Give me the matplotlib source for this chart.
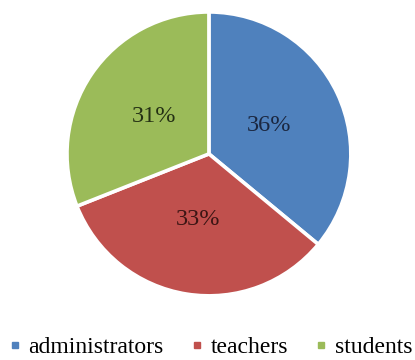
import matplotlib
matplotlib.use("Agg")
import matplotlib.pyplot as plt
from matplotlib.lines import Line2D

groups = ["administrators", "teachers", "students"]
shares = [36, 33, 31]
colors = ["#4F81BD", "#C0504D", "#9BBB59"]
label_colors = ["#1b2740", "#3b1514", "#243014"]

plt.rcParams["font.family"] = ["Liberation Serif", "DejaVu Serif"]

fig = plt.figure(figsize=(4.15, 3.6), dpi=100)
ax = fig.add_axes([0.1614, 0.178, 0.684, 0.789])

wedges, texts, autotexts = ax.pie(
    shares, colors=colors, startangle=90, counterclock=False,
    autopct="%d%%", pctdistance=0.47,
    wedgeprops=dict(edgecolor="white", linewidth=2.6),
    textprops=dict(fontsize=17.5),
)
for t, c in zip(autotexts, label_colors):
    t.set_color(c)
ax.set_xlim(-1.0, 1.0)
ax.set_ylim(-1.0, 1.0)
ax.set_aspect("equal")

handles = [Line2D([], [], marker="s", linestyle="none", markersize=5,
                  markerfacecolor=c, markeredgecolor=c) for c in colors]
fig.legend(handles, groups, loc="center", bbox_to_anchor=(0.506, 0.035),
           ncol=3, frameon=False, fontsize=17, handlelength=0.6,
           handletextpad=0.28, columnspacing=1.1, borderaxespad=0,
           borderpad=0)

fig.savefig("out.png", dpi=100)
